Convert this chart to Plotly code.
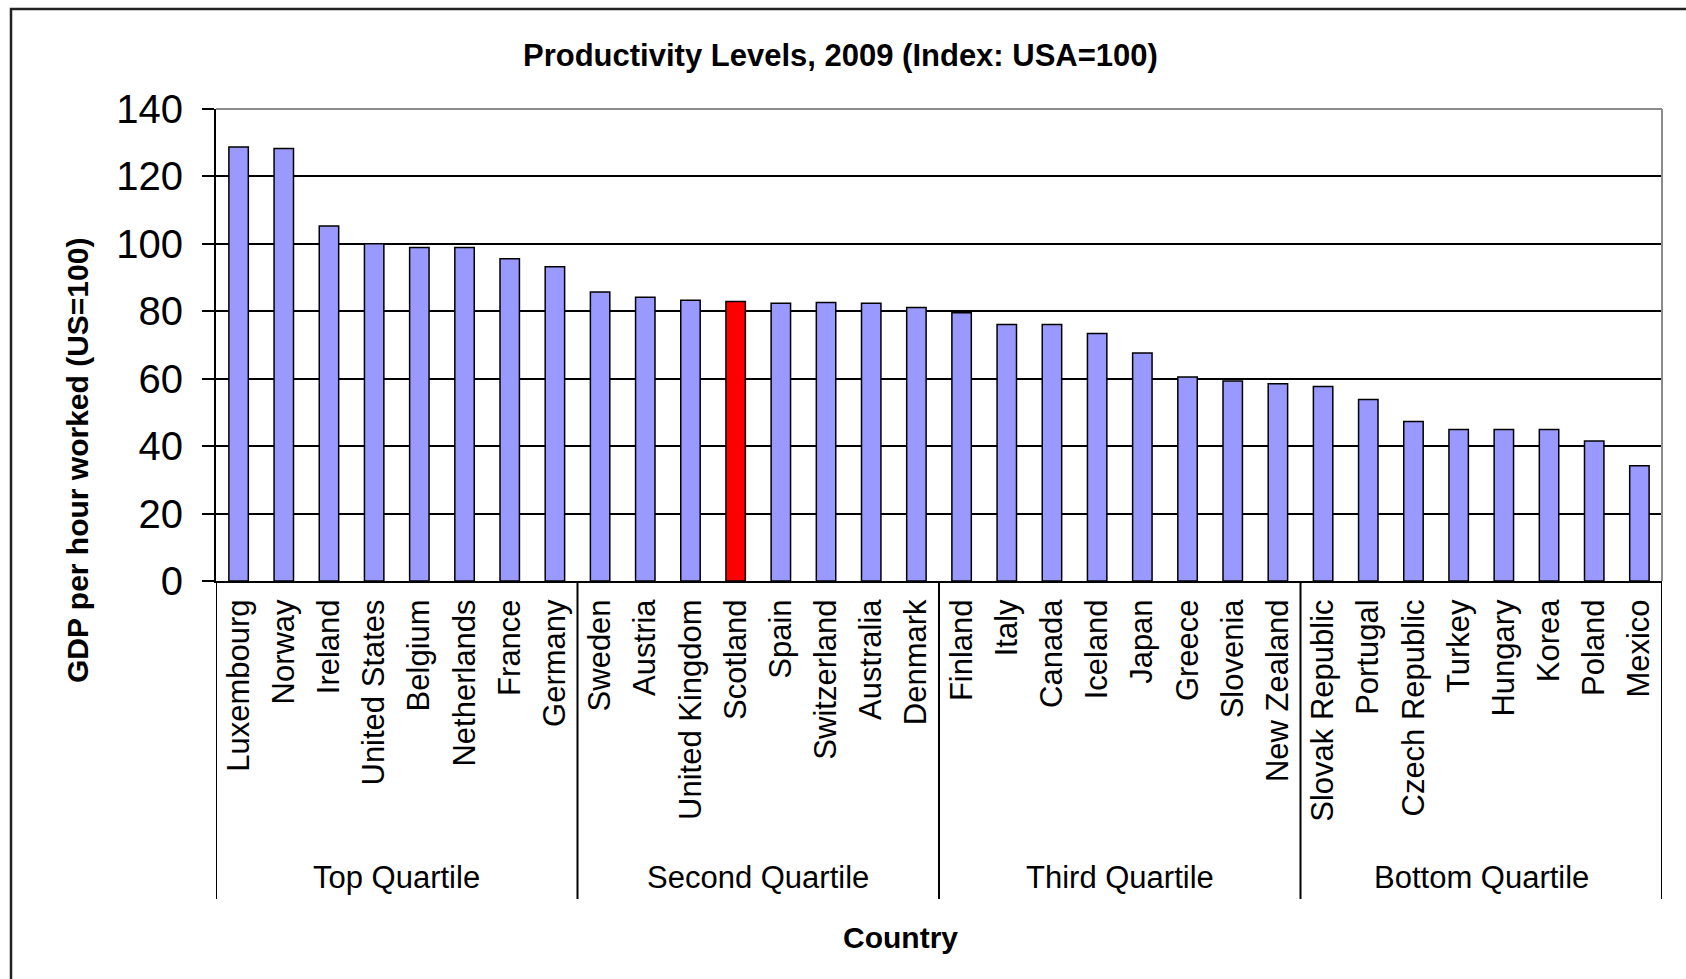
import plotly.graph_objects as go

# Productivity index (USA = 100), OECD countries ranked, 2009
countries = [
    "Luxembourg", "Norway", "Ireland", "United States", "Belgium", "Netherlands", "France", "Germany",
    "Sweden", "Austria", "United Kingdom", "Scotland", "Spain", "Switzerland", "Australia", "Denmark",
    "Finland", "Italy", "Canada", "Iceland", "Japan", "Greece", "Slovenia", "New Zealand",
    "Slovak Republic", "Portugal", "Czech Republic", "Turkey", "Hungary", "Korea", "Poland", "Mexico",
]
gdp_per_hour = [
    128.7, 128.3, 105.3, 100.0, 98.9, 98.9, 95.6, 93.2,
    85.7, 84.2, 83.3, 82.9, 82.4, 82.6, 82.4, 81.1,
    79.6, 76.1, 76.1, 73.4, 67.6, 60.5, 59.3, 58.5,
    57.7, 53.8, 47.3, 44.9, 44.9, 44.9, 41.5, 34.2,
]
quartiles = ["Top Quartile", "Second Quartile", "Third Quartile", "Bottom Quartile"]
per_quartile = 8
highlight = "Scotland"

W, H = 1686, 979
L, R, T, B = 216, 24, 109, 398
PW, PH = W - L - R, H - T - B


def px_x(px):
    return (px - L) / PW


def px_y(py):
    return (H - B - py) / PH


bar_colors = ["#FF0000" if c == highlight else "#9999FF" for c in countries]

fig = go.Figure(
    go.Bar(
        x=countries,
        y=gdp_per_hour,
        marker=dict(color=bar_colors, line=dict(color="black", width=1.5)),
        showlegend=False,
    )
)

base_font = "Liberation Sans, Arial, sans-serif"

fig.update_layout(
    width=W,
    height=H,
    margin=dict(l=L, r=R, t=T, b=B, pad=0),
    paper_bgcolor="white",
    plot_bgcolor="white",
    bargap=0.57,
    font=dict(family=base_font, color="black"),
    xaxis=dict(
        type="category",
        range=[-0.5, len(countries) - 0.5],
        tickangle=-90,
        tickfont=dict(family=base_font, size=31, color="black"),
        ticks="",
        ticklabelstandoff=4,
        showgrid=False,
        showline=True,
        linecolor="black",
        linewidth=2,
        zeroline=False,
    ),
    yaxis=dict(
        range=[0, 140],
        dtick=20,
        tickfont=dict(family=base_font, size=40, color="black"),
        ticks="outside",
        ticklen=12,
        tickwidth=2,
        tickcolor="black",
        ticklabelstandoff=11,
        showgrid=True,
        gridcolor="black",
        gridwidth=2,
        showline=True,
        linecolor="black",
        linewidth=2,
        zeroline=False,
    ),
)

shapes = []
# grey frame on the top and right of the plotting area
shapes.append(dict(type="line", xref="paper", yref="paper", x0=0, x1=1, y0=1, y1=1,
                   line=dict(color="#8C8C8C", width=2), layer="above"))
shapes.append(dict(type="line", xref="paper", yref="paper", x0=1, x1=1, y0=0, y1=1,
                   line=dict(color="#8C8C8C", width=2), layer="above"))
# quartile dividers below the category axis
for k in range(len(quartiles) + 1):
    xv = k * per_quartile - 0.5
    shapes.append(dict(type="line", xref="x", yref="paper", x0=xv, x1=xv,
                       y0=0, y1=px_y(899), line=dict(color="black", width=2)))
# outer chart border
shapes.append(dict(type="rect", xref="paper", yref="paper",
                   x0=px_x(11), x1=px_x(W + 20), y0=px_y(H + 20), y1=px_y(9),
                   line=dict(color="#222222", width=2.5), fillcolor="rgba(0,0,0,0)"))
fig.update_layout(shapes=shapes)

annotations = []
for i, q in enumerate(quartiles):
    annotations.append(dict(
        text=q, xref="x", yref="paper", x=i * per_quartile + (per_quartile - 1) / 2,
        y=px_y(877), showarrow=False, xanchor="center", yanchor="middle",
        font=dict(family=base_font, size=31, color="black"),
    ))
annotations.append(dict(
    text="<b>Productivity Levels, 2009 (Index: USA=100)</b>", xref="paper", yref="paper",
    x=px_x(840), y=px_y(56), showarrow=False, xanchor="center", yanchor="middle",
    font=dict(family=base_font, size=31, color="black"),
))
annotations.append(dict(
    text="<b>Country</b>", xref="paper", yref="paper",
    x=px_x(900), y=px_y(938), showarrow=False, xanchor="center", yanchor="middle",
    font=dict(family=base_font, size=30, color="black"),
))
annotations.append(dict(
    text="<b>GDP per hour worked (US=100)</b>", xref="paper", yref="paper",
    x=px_x(77), y=px_y(461), showarrow=False, xanchor="center", yanchor="middle",
    textangle=-90, font=dict(family=base_font, size=30, color="black"),
))
fig.update_layout(annotations=annotations)

fig.write_html("out.html")
